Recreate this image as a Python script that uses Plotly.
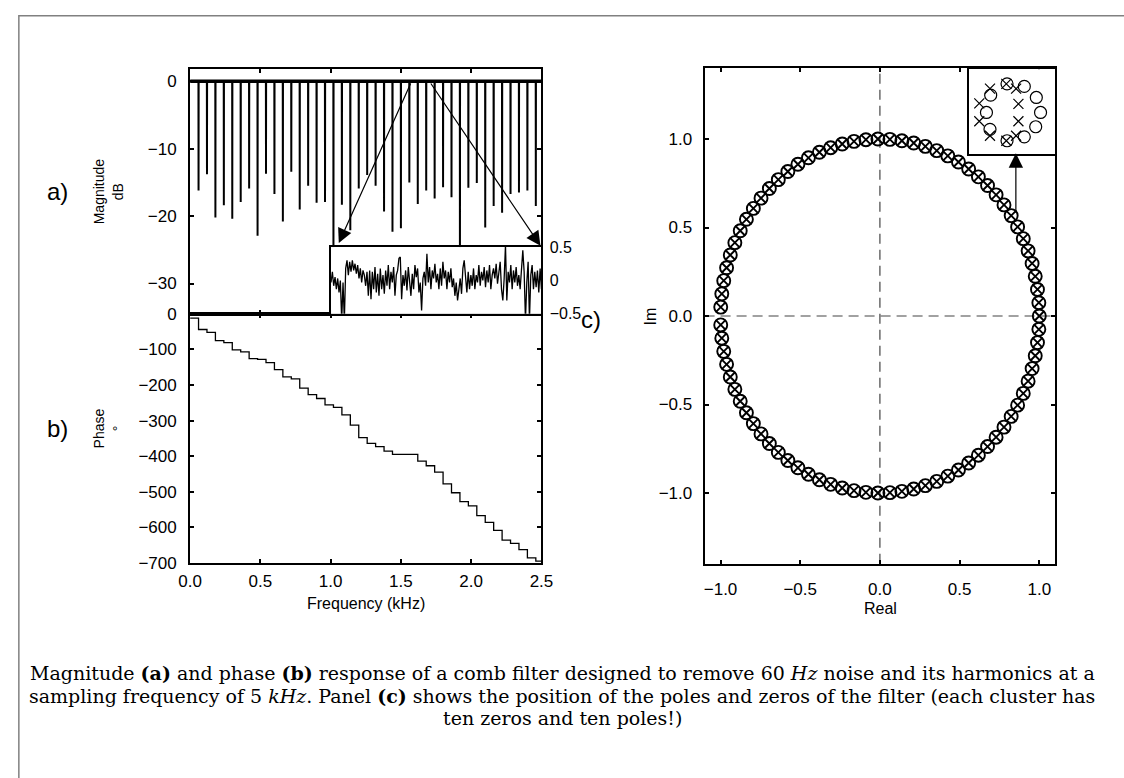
import math
import plotly.graph_objects as go

W, H = 1124, 778

# ---------------- data ----------------
harmonics_khz = [0.06, 0.12, 0.18, 0.24, 0.30, 0.36, 0.42, 0.48, 0.54, 0.60,
                 0.66, 0.72, 0.78, 0.84, 0.90, 0.96, 1.02, 1.08, 1.14, 1.20,
                 1.26, 1.32, 1.38, 1.44, 1.50, 1.56, 1.62, 1.68, 1.74, 1.80,
                 1.86, 1.92, 1.98, 2.04, 2.10, 2.16, 2.22, 2.28, 2.34, 2.40, 2.46]
notch_depth_db = [-16.2, -13.8, -20.2, -18.4, -20.4, -17.9, -15.9, -22.9, -13.7, -16.7,
                  -20.8, -13.4, -19.0, -15.5, -18.0, -17.9, -27.0, -18.3, -22.1, -15.9,
                  -13.9, -15.5, -19.3, -22.3, -21.8, -15.0, -18.2, -16.2, -17.4, -15.7,
                  -17.2, -30.0, -15.8, -15.1, -21.7, -18.5, -19.5, -16.7, -16.5, -16.2, -18.5]
phase_levels_deg = [-12, -44, -52, -75, -81, -101, -107, -126, -128, -137,
                    -157, -177, -183, -209, -227, -238, -256, -263, -284, -313,
                    -348, -364, -373, -386, -395, -395, -395, -414, -427, -445,
                    -478, -503, -528, -540, -567, -586, -609, -636, -645, -663,
                    -686, -695]
ripple_db = [-0.03, 0.13, -0.08, 0.05, -0.13, 0.03, -0.18, 0.0, -0.6, -0.03,
             -0.6, 0.18, 0.3, 0.08, 0.28, 0.13, 0.3, 0.15, 0.25, 0.1,
             0.23, 0.03, 0.18, -0.03, 0.15, 0.08, -0.08, 0.13, -0.23, 0.15,
             -0.28, 0.13, -0.13, 0.2, -0.18, 0.1, -0.23, 0.18, -0.13, 0.08,
             -0.2, 0.15, -0.08, 0.23, -0.13, 0.13, -0.03, 0.2, -0.23, 0.08,
             0.15, 0.33, 0.35, -0.28, 0.08, -0.08, 0.15, -0.15, 0.2, -0.03,
             -0.23, 0.1, -0.13, 0.23, 0.05, 0.18, -0.18, -0.03, -0.45, 0.03,
             0.13, -0.08, 0.4, -0.03, 0.2, -0.13, 0.15, 0.03, 0.25, -0.03,
             0.1, -0.13, 0.18, -0.08, 0.28, 0.03, 0.15, -0.13, 0.13, -0.03,
             0.18, -0.1, 0.03, -0.23, -0.03, -0.3, -0.13, 0.03, -0.2, 0.18,
             0.3, 0.03, -0.18, 0.13, -0.13, 0.08, -0.08, 0.18, -0.13, 0.08,
             -0.03, 0.23, -0.08, 0.13, 0.0, 0.2, -0.1, 0.15, -0.03, 0.23,
             -0.13, 0.08, 0.18, 0.03, 0.25, -0.05, 0.15, 0.28, -0.13, -0.3,
             0.03, 0.53, -0.3, 0.13, -0.03, 0.23, -0.13, 0.15, -0.03, 0.2,
             -0.08, 0.08, -0.13, 0.18, 0.45, 0.13, -0.6, -0.03, 0.28, -0.6,
             0.08, 0.23, -0.13, 0.13, -0.1, 0.15, -0.18, 0.18, -0.13]
sampling_hz = 5000
harmonics_hz = [60, 120, 180, 240, 300, 360, 420, 480, 540, 600,
                660, 720, 780, 840, 900, 960, 1020, 1080, 1140, 1200,
                1260, 1320, 1380, 1440, 1500, 1560, 1620, 1680, 1740, 1800,
                1860, 1920, 1980, 2040, 2100, 2160, 2220, 2280, 2340, 2400, 2460]
# one cluster, zoomed (inset), in normalised inset units
cluster_zero_u = [0.442, 0.642, 0.781, 0.830, 0.774, 0.642, 0.442, 0.245, 0.204, 0.253]
cluster_zero_v = [0.828, 0.798, 0.668, 0.492, 0.324, 0.206, 0.160, 0.294, 0.492, 0.695]
cluster_pole_u = [0.434, 0.547, 0.574, 0.574, 0.547, 0.434, 0.245, 0.121, 0.121, 0.245]
cluster_pole_v = [0.828, 0.771, 0.592, 0.389, 0.218, 0.160, 0.218, 0.389, 0.599, 0.771]

# ---------------- helpers ----------------
def dx(a, b):
    return [a / W, b / W]

def dy(top, bottom):
    return [1 - bottom / H, 1 - top / H]

def px(x):
    return x / W

def py(y):
    return 1 - y / H

FONT = "Liberation Sans, Arial, sans-serif"
TICKF = dict(family=FONT, size=17, color="black")

fig = go.Figure()

# magnitude trace (baseline with notches)
mx, my = [0.0], [0.0]
eps = 0.0008
for f, d in zip(harmonics_khz, notch_depth_db):
    mx += [f - eps, f, f + eps]
    my += [0.0, d, 0.0]
mx.append(2.5)
my.append(0.0)
fig.add_trace(go.Scatter(x=mx, y=my, mode="lines", line=dict(color="black", width=2),
                         xaxis="x", yaxis="y", showlegend=False, hoverinfo="skip"))
fig.add_trace(go.Scatter(x=[0.0, 2.5], y=[0.0, 0.0], mode="lines", line=dict(color="black", width=3.5),
                         xaxis="x", yaxis="y", showlegend=False, hoverinfo="skip"))

# phase staircase
px_ = [0.0] + harmonics_khz + [2.5]
py_ = phase_levels_deg + [phase_levels_deg[-1]]
fig.add_trace(go.Scatter(x=px_, y=py_, mode="lines", line=dict(color="black", width=1.3, shape="hv"),
                         xaxis="x2", yaxis="y2", showlegend=False, hoverinfo="skip"))

# pole-zero plot
cl = [-h for h in reversed(harmonics_hz)] + [0] + harmonics_hz
zr = [math.cos(2 * math.pi * f / sampling_hz) for f in cl]
zi = [math.sin(2 * math.pi * f / sampling_hz) for f in cl]
fig.add_trace(go.Scatter(x=zr, y=zi, mode="markers",
                         marker=dict(symbol="circle-open", size=13, color="black", line=dict(width=1.9, color="black")),
                         xaxis="x3", yaxis="y3", showlegend=False, hoverinfo="skip"))
fig.add_trace(go.Scatter(x=zr, y=zi, mode="markers",
                         marker=dict(symbol="x-thin-open", size=10, color="black", line=dict(width=1.9, color="black")),
                         xaxis="x3", yaxis="y3", showlegend=False, hoverinfo="skip"))

# magnitude inset ripple
n = len(ripple_db)
rx = [i / (n - 1) for i in range(n)]
fig.add_trace(go.Scatter(x=rx, y=ripple_db, mode="lines", line=dict(color="black", width=1.3),
                         xaxis="x4", yaxis="y4", showlegend=False, hoverinfo="skip"))

# pole-zero inset cluster
fig.add_trace(go.Scatter(x=cluster_zero_u, y=cluster_zero_v, mode="markers",
                         marker=dict(symbol="circle-open", size=12, color="black", line=dict(width=1.2, color="black")),
                         xaxis="x5", yaxis="y5", showlegend=False, hoverinfo="skip"))
fig.add_trace(go.Scatter(x=cluster_pole_u, y=cluster_pole_v, mode="markers",
                         marker=dict(symbol="x-thin-open", size=10, color="black", line=dict(width=1.2, color="black")),
                         xaxis="x5", yaxis="y5", showlegend=False, hoverinfo="skip"))

frame = dict(showline=True, linewidth=2, linecolor="black", mirror="ticks", ticks="inside",
             ticklen=4, tickwidth=1.5, tickcolor="black", showgrid=False, zeroline=False,
             tickfont=TICKF)

xt = [0, 0.5, 1.0, 1.5, 2.0, 2.5]
xtt = ["0.0", "0.5", "1.0", "1.5", "2.0", "2.5"]

layout = dict(
    width=W, height=H, margin=dict(l=0, r=0, t=0, b=0),
    paper_bgcolor="white", plot_bgcolor="white",
    xaxis=dict(frame, domain=dx(182, 541), range=[0, 2.5], tickvals=xt, showticklabels=False, anchor="y"),
    yaxis=dict(frame, domain=dy(61, 312.5), range=[-34.5, 1.9], tickvals=[0, -10, -20, -30],
               ticktext=["0", "\u221210", "\u221220", "\u221230"], anchor="x", ticklabelstandoff=8),
    xaxis2=dict(frame, domain=dx(182, 541), range=[0, 2.5], tickvals=xt, ticktext=xtt, anchor="y2",
                ticklabelstandoff=2),
    yaxis2=dict(frame, domain=dy(312.5, 567.7), range=[-700, 0],
                tickvals=[0, -100, -200, -300, -400, -500, -600, -700],
                ticktext=["0", "\u2212100", "\u2212200", "\u2212300", "\u2212400", "\u2212500", "\u2212600", "\u2212700"],
                anchor="x2", ticklabelstandoff=8),
    xaxis3=dict(frame, domain=dx(707.7, 1066), range=[-1.1, 1.1], tickvals=[-1, -0.5, 0, 0.5, 1],
                ticktext=["\u22121.0", "\u22120.5", "0.0", "0.5", "1.0"], anchor="y3", ticklabelstandoff=9),
    yaxis3=dict(frame, domain=dy(60.7, 568.7), range=[-1.4, 1.4], tickvals=[-1, -0.5, 0, 0.5, 1],
                ticktext=["\u22121.0", "\u22120.5", "0.0", "0.5", "1.0"], anchor="x3", ticklabelstandoff=7),
    xaxis4=dict(domain=dx(326, 541), range=[0, 1], showline=True, mirror=True, linewidth=2, linecolor="black",
                showticklabels=False, ticks="", showgrid=False, zeroline=False, anchor="y4"),
    yaxis4=dict(domain=dy(244, 312.5), range=[-0.5, 0.5], showline=True, mirror=True, linewidth=2,
                linecolor="black", side="right", tickvals=[0.5, 0, -0.5], ticktext=["0.5", "0", "\u22120.5"],
                ticks="", showgrid=False, zeroline=False, tickfont=dict(family=FONT, size=16, color="black"),
                anchor="x4", ticklabelstandoff=3),
    xaxis5=dict(domain=dx(977.7, 1066), range=[0, 1], showline=True, mirror=True, linewidth=2, linecolor="black",
                showticklabels=False, ticks="", showgrid=False, zeroline=False, anchor="y5"),
    yaxis5=dict(domain=dy(61.7, 149), range=[0, 1], showline=True, mirror=True, linewidth=2, linecolor="black",
                showticklabels=False, ticks="", showgrid=False, zeroline=False, anchor="x5"),
)
fig.update_layout(**layout)

shapes = [
    dict(type="line", xref="x3", yref="y3", x0=-1.1, x1=1.1, y0=0, y1=0,
         line=dict(color="#444", width=1.2, dash="10px,6px"), layer="below"),
    dict(type="line", xref="x3", yref="y3", x0=0, x1=0, y0=-1.4, y1=1.4,
         line=dict(color="#444", width=1.2, dash="10px,6px"), layer="below"),
    dict(type="rect", xref="paper", yref="paper", x0=px(7), x1=1.02, y0=-0.02, y1=py(7),
         line=dict(color="#808080", width=1.5), fillcolor="rgba(0,0,0,0)"),
]
fig.update_layout(shapes=shapes)

ann = []
# arrows
for (hx, hy, tx, ty) in [(1.058, -24.0, 1.574, -0.1), (2.493, -24.4, 1.706, -0.1)]:
    ann.append(dict(x=hx, y=hy, ax=tx, ay=ty, xref="x", yref="y", axref="x", ayref="y", text="",
                    showarrow=True, arrowhead=2, arrowsize=2.4, arrowwidth=1.2, arrowcolor="black"))
ann.append(dict(x=0.853, y=0.919, ax=0.853, ay=0.575, xref="x3", yref="y3", axref="x3", ayref="y3", text="",
                showarrow=True, arrowhead=2, arrowsize=2.4, arrowwidth=1.2, arrowcolor="black"))

def label(text, x, y, size=16, angle=0, family=FONT):
    ann.append(dict(text=text, x=px(x), y=py(y), xref="paper", yref="paper", showarrow=False,
                    xanchor="center", yanchor="middle", textangle=angle,
                    font=dict(family=family, size=size, color="black")))

label("a)", 47, 187, 24)
label("b)", 47, 430, 24)
label("c)", 592, 318, 24)
label("Magnitude<br>dB", 99, 187, 14, -90)
label("Phase<br>\u00b0", 99, 430, 14, -90)
label("Im", 652, 315, 16, -90)
label("Real", 887, 615, 16)
label("Frequency (kHz)", 362, 609, 16)

SERIF = "DejaVu Serif, serif"
cap1 = "Magnitude <b>(a)</b> and phase <b>(b)</b> response of a comb filter designed to remove 60 <i>Hz</i> noise and its harmonics at a"
cap2 = "sampling frequency of 5 <i>kHz</i>. Panel <b>(c)</b> shows the position of the poles and zeros of the filter (each cluster has"
cap3 = "ten zeros and ten poles!)"
label(cap1, 562, 681, 19, 0, SERIF)
label(cap2, 562, 704, 19, 0, SERIF)
label(cap3, 562, 727, 19, 0, SERIF)

fig.update_layout(annotations=ann)
fig.write_html("out.html")
